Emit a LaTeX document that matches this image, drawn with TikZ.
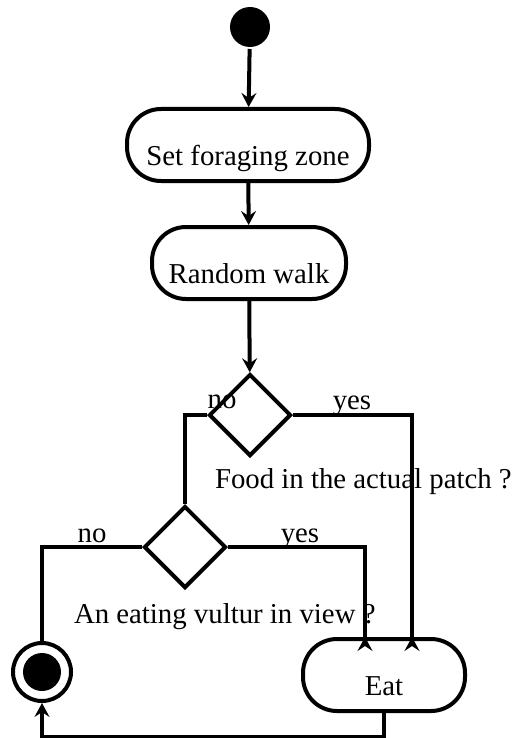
\documentclass[tikz,border=0pt]{standalone}
\usepackage{fontspec}
\setmainfont{Liberation Serif}
\usetikzlibrary{arrows.meta,shapes.geometric}

\tikzset{
  every node/.style={font=\fontsize{14.4}{17}\selectfont},
  activity/.style={draw, rectangle, rounded corners=17pt,
    text height=22pt, text depth=2pt, minimum height=36pt},
  decision/.style={draw, diamond, inner sep=0pt, minimum size=41pt},
  tag/.style={inner sep=0pt},
  flow/.style={-{Stealth[length=7pt, width=7.5pt, inset=2.5pt]}},
  intoeat/.style={-{Stealth[length=7pt, width=7.5pt, inset=2.5pt, reversed]},
    shorten >=-7pt},
}

\begin{document}
\begin{tikzpicture}[x=0.5pt, y=-0.5pt, line width=2pt]
  \useasboundingbox (0,0) rectangle (512,738);
  \node[circle, fill, inner sep=0pt, minimum size=20pt](start) at (250,27){};
  \node[activity, minimum width=121pt](setzone) at (248,145){Set foraging zone};
  \node[activity, minimum width=97pt](walk) at (249,263){Random walk};
  \node[decision](food) at (250,415){};
  \node[decision](vultur) at (185,547){};
  \node[activity, minimum width=81pt](eat) at (384,675){Eat};
  \node[circle, draw, inner sep=0pt, minimum size=29pt,
    path picture={\fill (path picture bounding box.center) circle(9.5pt);}]
    (stop) at (42,672){};
  % labels
  \node[tag, anchor=base](foodno) at (222,408){no};
  \node[tag, anchor=base](foodyes) at (352,409){yes};
  \node[tag, anchor=base west](foodq) at (213,488){Food in the actual patch ?};
  \node[tag, anchor=base](vulturno) at (92,542){no};
  \node[tag, anchor=base](vulturyes) at (300,542){yes};
  \node[tag, anchor=base west](vulturq) at (72,623){An eating vultur in view ?};
  % flow
  \draw[flow](start)--(setzone);
  \draw[flow](setzone)--(walk);
  \draw[flow](walk)--(food);
  \draw(food.west)-|(vultur.north);
  \draw[intoeat](food.east)-|([xshift=14pt]eat.north);
  \draw[intoeat](vultur.east)-|([xshift=-9.5pt]eat.north);
  \draw(vultur.west)-|(stop.north);
  \draw[flow](eat.south)--++(0,24)-|(stop.south);
\end{tikzpicture}
\end{document}
